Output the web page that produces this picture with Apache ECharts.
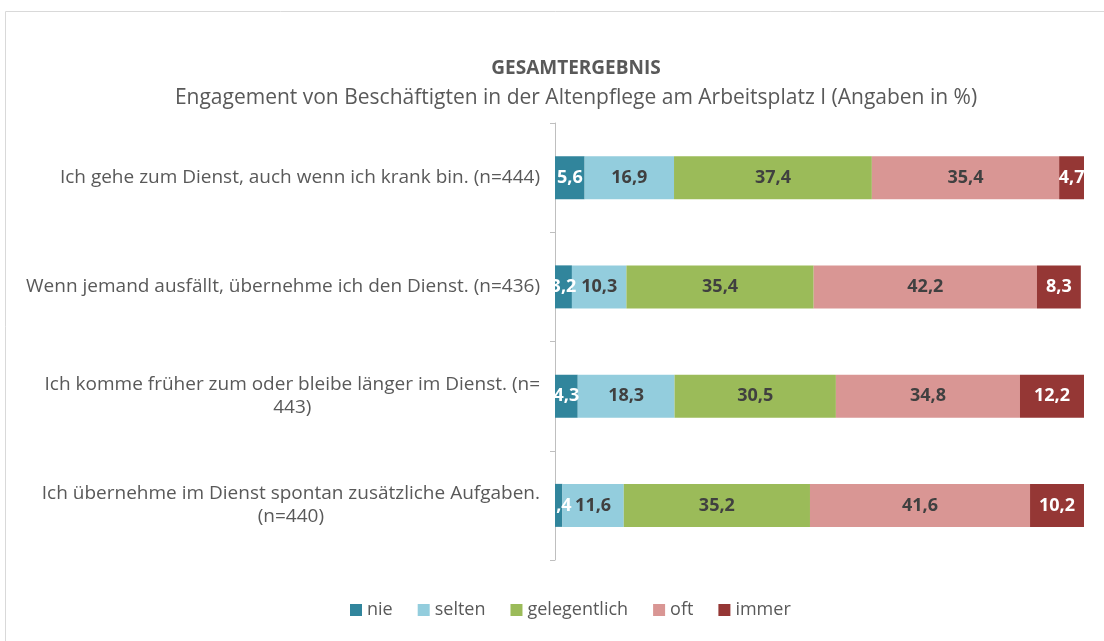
<!DOCTYPE html>
<html>
<head>
<meta charset="utf-8">
<script src="https://cdn.jsdelivr.net/npm/echarts@6/dist/echarts.min.js"></script>
<style>
  html, body { margin: 0; padding: 0; background: #fff; }
  #chart { width: 1104px; height: 641px; }
</style>
</head>
<body>
<div id="chart"></div>
<script>
var categories = [
    'Ich gehe zum Dienst, auch wenn ich krank bin. (n=444)',
    'Wenn jemand ausfällt, übernehme ich den Dienst. (n=436)',
    'Ich komme früher zum oder bleibe länger im Dienst. (n=\n443)',
    'Ich übernehme im Dienst spontan zusätzliche Aufgaben.\n(n=440)'
];
var seriesNames = ['nie', 'selten', 'gelegentlich', 'oft', 'immer'];
var nie = [5.6, 3.2, 4.3, 1.4];
var selten = [16.9, 10.3, 18.3, 11.6];
var gelegentlich = [37.4, 35.4, 30.5, 35.2];
var oft = [35.4, 42.2, 34.8, 41.6];
var immer = [4.7, 8.3, 12.2, 10.2];
var colors = ['#31859C', '#93CDDD', '#9BBB59', '#D99694', '#953735'];
var labelColors = ['#ffffff', '#404040', '#404040', '#404040', '#ffffff'];

var font = '"Open Sans", "Liberation Sans", sans-serif';
var chart = echarts.init(document.getElementById('chart'));

var values = [nie, selten, gelegentlich, oft, immer];
var series = [];
for (var i = 0; i < seriesNames.length; i++) {
    series.push({
        name: seriesNames[i],
        type: 'bar',
        stack: 'total',
        barWidth: 43,
        data: values[i],
        itemStyle: { color: colors[i] },
        label: {
            show: true,
            position: 'inside',
            color: labelColors[i],
            fontFamily: font,
            fontWeight: 'bold',
            fontSize: 18,
            formatter: function (p) {
                return String(p.value).replace('.', ',');
            }
        }
    });
}

var option = {
    animation: false,
    color: colors,
    graphic: [{
        type: 'rect',
        shape: { x: 5.5, y: 11.5, width: 1120, height: 660 },
        style: { fill: 'none', stroke: '#d9d9d9', lineWidth: 1 },
        silent: true
    }],
    title: {
        text: 'GESAMTERGEBNIS',
        subtext: 'Engagement von Beschäftigten in der Altenpflege am Arbeitsplatz I (Angaben in %)',
        left: 571,
        textAlign: 'center',
        top: 54,
        itemGap: 10,
        textStyle: { fontFamily: font, fontSize: 19, fontWeight: 'bold', color: '#595959' },
        subtextStyle: { fontFamily: font, fontSize: 21, color: '#595959' }
    },
    legend: {
        bottom: 17,
        left: 345,
        itemWidth: 12,
        itemHeight: 12,
        itemGap: 25,
        icon: 'rect',
        textStyle: { fontFamily: font, fontSize: 18, color: '#595959' },
        data: seriesNames
    },
    grid: { left: 555, right: 20, top: 123, height: 437, containLabel: false },
    xAxis: {
        type: 'value',
        min: 0,
        max: 100,
        show: false
    },
    yAxis: {
        type: 'category',
        inverse: true,
        data: categories,
        axisLine: { show: true, lineStyle: { color: '#bfbfbf' } },
        axisTick: { show: true, length: 5, lineStyle: { color: '#bfbfbf' } },
        axisLabel: {
            margin: 15,
            align: 'right',
            fontFamily: font,
            fontSize: 19,
            color: '#595959',
            lineHeight: 23,
            formatter: function (v) {
                return v.split('\n').map(function (s) { return '{c|' + s + '}'; }).join('\n');
            },
            rich: {
                c: { align: 'center', fontFamily: font, fontSize: 19, color: '#595959', lineHeight: 23 }
            }
        }
    },
    series: series
};
chart.setOption(option);
</script>
</body>
</html>
